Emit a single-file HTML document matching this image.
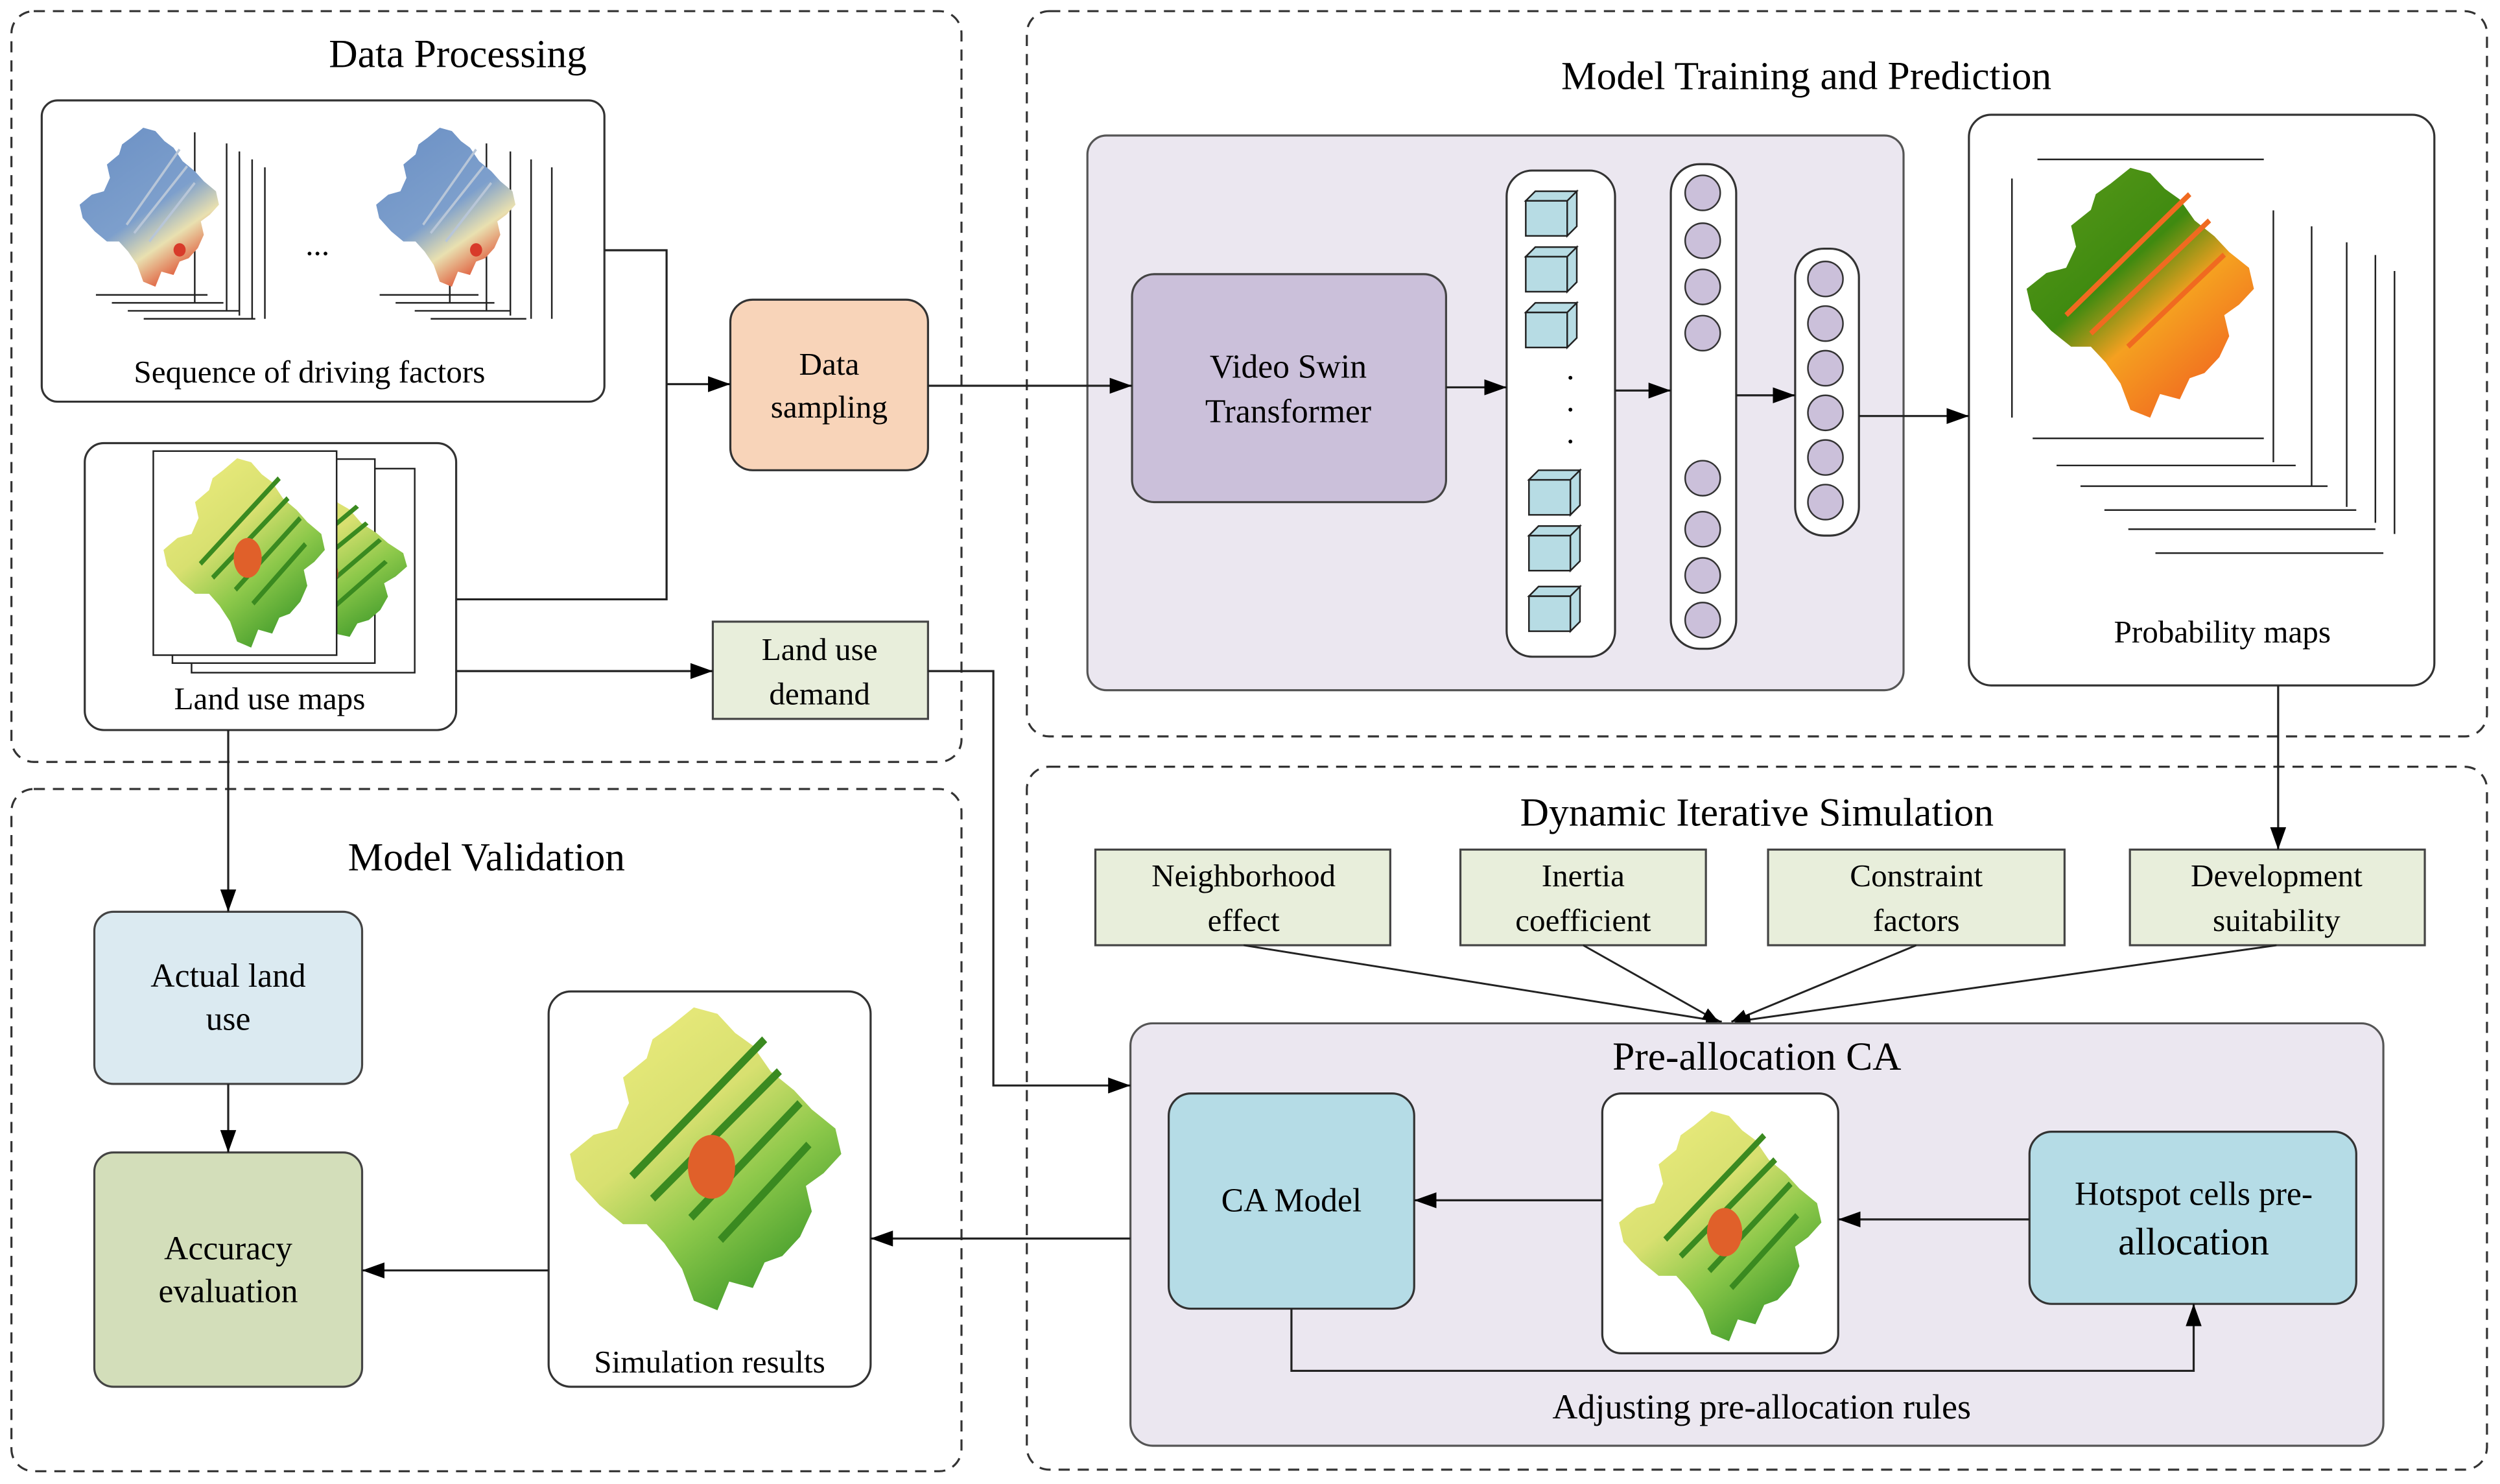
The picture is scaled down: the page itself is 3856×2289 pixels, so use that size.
<!DOCTYPE html>
<html><head><meta charset="utf-8"><style>html,body{margin:0;padding:0;background:#fff}svg{display:block}</style></head>
<body>
<svg xmlns="http://www.w3.org/2000/svg" width="3856" height="2289" viewBox="0 0 1568 931" font-family="'Liberation Serif', serif" fill="none">
<defs>
<marker id="ar" markerWidth="10" markerHeight="8" refX="10" refY="4" orient="auto" markerUnits="userSpaceOnUse" viewBox="0 0 10 8"><path d="M0,0 L10,4 L0,8 Z" fill="#000"/></marker>
<marker id="ar2" markerWidth="14" markerHeight="10" refX="14" refY="5" orient="auto" markerUnits="userSpaceOnUse" viewBox="0 0 14 10"><path d="M0,0 L14,5 L0,10 Z" fill="#000"/></marker>
<path id="shape" d="M38,8 L46,2 L54,4 L60,10 L66,14 L72,22 L80,28 L86,34 L94,40 L96,48 L90,54 L84,58 L86,66 L82,74 L76,80 L70,82 L66,90 L58,88 L54,97 L46,94 L42,84 L36,76 L30,70 L22,70 L14,64 L6,56 L4,48 L12,42 L20,40 L24,32 L22,24 L30,18 L32,12 Z"/>
<linearGradient id="gb" x1="0" y1="0" x2="0.6" y2="1"><stop offset="0" stop-color="#6a8fc4"/><stop offset="0.6" stop-color="#7d9fcc"/><stop offset="0.8" stop-color="#e9e0b0"/><stop offset="1" stop-color="#e05a3a"/></linearGradient>
<linearGradient id="gl" x1="0" y1="0" x2="0.7" y2="1"><stop offset="0" stop-color="#f0ee80"/><stop offset="0.45" stop-color="#d8e070"/><stop offset="0.7" stop-color="#8cc84a"/><stop offset="1" stop-color="#3f9a2a"/></linearGradient>
<linearGradient id="gp" x1="0" y1="0" x2="0.8" y2="1"><stop offset="0" stop-color="#5a9a1a"/><stop offset="0.45" stop-color="#3f8a10"/><stop offset="0.65" stop-color="#f5a020"/><stop offset="1" stop-color="#f06020"/></linearGradient>
<g id="mb"><use href="#shape" fill="url(#gb)"/><path d="M35,60 L70,15 M40,65 L75,25 M50,70 L80,35" stroke="#b8c6d8" stroke-width="1.5"/><circle cx="70" cy="75" r="4" fill="#d83a2a"/></g>
<g id="ml"><use href="#shape" fill="url(#gl)"/><path d="M25,55 L70,12 M32,62 L75,22 M45,68 L82,32 M55,75 L85,45" stroke="#3a8a20" stroke-width="2.5"/><ellipse cx="52" cy="52" rx="8" ry="10" fill="#e0602a"/></g>
<g id="mp"><use href="#shape" fill="url(#gp)"/><path d="M20,58 L70,12 M30,65 L78,22 M45,70 L84,35" stroke="#f06a20" stroke-width="2"/></g>
</defs>
<rect width="1568" height="931" fill="#fff"/>

<g stroke="#333" stroke-width="1.3" stroke-dasharray="7,5">
<rect x="7" y="7" width="596" height="471" rx="14"/>
<rect x="7" y="495" width="596" height="428" rx="14"/>
<rect x="644" y="7" width="916" height="455" rx="14"/>
<rect x="644" y="481" width="916" height="441" rx="14"/>
</g>
<g font-size="25" fill="#000" text-anchor="middle">
<text x="287" y="42">Data Processing</text>
<text x="1133" y="56">Model Training and Prediction</text>
<text x="1102" y="518">Dynamic Iterative Simulation</text>
<text x="305" y="546">Model Validation</text>
</g>

<rect x="26" y="63" width="353" height="189" rx="10" fill="#fff" stroke="#333" stroke-width="1.3"/>
<g stroke="#222" stroke-width="1">
<path d="M122,83 L122,190 M142,90 L142,195 M150,95 L150,198 M158,100 L158,200 M166,105 L166,200"/>
<path d="M60,185 L130,185 M70,190 L140,190 M80,195 L150,195 M90,200 L160,200"/>
<path d="M282,83 L282,190 M305,90 L305,195 M320,95 L320,198 M333,100 L333,200 M346,105 L346,200"/>
<path d="M238,185 L300,185 M248,190 L310,190 M260,195 L320,195 M270,200 L330,200"/>
</g>
<use href="#mb" transform="translate(46,78) scale(0.95,1.05)"/>
<use href="#mb" transform="translate(232,78) scale(0.95,1.05)"/>
<text x="199" y="160" font-size="20" fill="#000" text-anchor="middle">...</text>
<text x="194" y="240" font-size="20" fill="#000" text-anchor="middle">Sequence of driving factors</text>

<rect x="53" y="278" width="233" height="180" rx="12" fill="#fff" stroke="#333" stroke-width="1.3"/>
<rect x="120" y="294" width="140" height="128" fill="#fff" stroke="#222"/>
<rect x="108" y="288" width="127" height="128" fill="#fff" stroke="#222"/>
<use href="#ml" transform="translate(140,305) scale(1.2,1.05)"/>
<rect x="96" y="283" width="115" height="128" fill="#fff" stroke="#222"/>
<use href="#ml" transform="translate(98,285) scale(1.1,1.25)"/>
<text x="169" y="445" font-size="20" fill="#000" text-anchor="middle">Land use maps</text>

<rect x="458" y="188" width="124" height="107" rx="14" fill="#f8d4b9" stroke="#333" stroke-width="1.3"/>
<text x="520" y="235" font-size="20" fill="#000" text-anchor="middle">Data</text>
<text x="520" y="262" font-size="20" fill="#000" text-anchor="middle">sampling</text>
<rect x="447" y="390" width="135" height="61" fill="#e8eedb" stroke="#444" stroke-width="1.3"/>
<text x="514" y="414" font-size="20" fill="#000" text-anchor="middle">Land use</text>
<text x="514" y="442" font-size="20" fill="#000" text-anchor="middle">demand</text>

<rect x="682" y="85" width="512" height="348" rx="12" fill="#ebe7f0" stroke="#555" stroke-width="1.3"/>
<rect x="710" y="172" width="197" height="143" rx="14" fill="#cbc0da" stroke="#444" stroke-width="1.3"/>
<text x="808" y="237" font-size="21" fill="#000" text-anchor="middle">Video Swin</text>
<text x="808" y="265" font-size="21" fill="#000" text-anchor="middle">Transformer</text>
<rect x="945" y="107" width="68" height="305" rx="16" fill="#fff" stroke="#333" stroke-width="1.3"/>
<g fill="#b7dce4" stroke="#222" stroke-width="1">
<g id="cube"><rect x="957" y="126" width="26" height="22"/><path d="M957,126 L963,120 L989,120 L983,126 Z M983,126 L989,120 L989,142 L983,148 Z"/></g>
<use href="#cube" transform="translate(0,35)"/>
<use href="#cube" transform="translate(0,70)"/>
<use href="#cube" transform="translate(2,175)"/>
<use href="#cube" transform="translate(2,210)"/>
<use href="#cube" transform="translate(2,248)"/>
</g>
<g fill="#000"><circle cx="985" cy="237" r="1.2"/><circle cx="985" cy="257" r="1.2"/><circle cx="985" cy="277" r="1.2"/>
<circle cx="1068" cy="233" r="1.2"/><circle cx="1068" cy="253" r="1.2"/><circle cx="1068" cy="273" r="1.2"/></g>
<rect x="1048" y="103" width="41" height="304" rx="18" fill="#fff" stroke="#333" stroke-width="1.3"/>
<g fill="#cbc0da" stroke="#333" stroke-width="1">
<circle cx="1068" cy="121" r="11"/><circle cx="1068" cy="151" r="11"/><circle cx="1068" cy="180" r="11"/><circle cx="1068" cy="209" r="11"/>
<circle cx="1068" cy="300" r="11"/><circle cx="1068" cy="332" r="11"/><circle cx="1068" cy="361" r="11"/><circle cx="1068" cy="389" r="11"/>
</g>
<rect x="1126" y="156" width="40" height="180" rx="18" fill="#fff" stroke="#333" stroke-width="1.3"/>
<g fill="#cbc0da" stroke="#333" stroke-width="1">
<circle cx="1145" cy="175" r="11"/><circle cx="1145" cy="203" r="11"/><circle cx="1145" cy="231" r="11"/><circle cx="1145" cy="259" r="11"/><circle cx="1145" cy="287" r="11"/><circle cx="1145" cy="315" r="11"/>
</g>

<rect x="1235" y="72" width="292" height="358" rx="14" fill="#fff" stroke="#333" stroke-width="1.3"/>
<g stroke="#222" stroke-width="1">
<path d="M1262,112 L1262,262 M1426,132 L1426,290 M1450,142 L1450,305 M1472,152 L1472,318 M1490,160 L1490,328 M1502,170 L1502,335"/>
<path d="M1278,100 L1420,100 M1275,275 L1420,275 M1290,292 L1440,292 M1305,305 L1460,305 M1320,320 L1478,320 M1335,332 L1490,332 M1352,347 L1495,347"/>
</g>
<use href="#mp" transform="translate(1265,102) scale(1.55,1.65)"/>
<text x="1394" y="403" font-size="20" fill="#000" text-anchor="middle">Probability maps</text>

<g fill="#e8eedb" stroke="#444" stroke-width="1.3">
<rect x="687" y="533" width="185" height="60"/>
<rect x="916" y="533" width="154" height="60"/>
<rect x="1109" y="533" width="186" height="60"/>
<rect x="1336" y="533" width="185" height="60"/>
</g>
<g font-size="20" fill="#000" text-anchor="middle">
<text x="780" y="556">Neighborhood</text><text x="780" y="584">effect</text>
<text x="993" y="556">Inertia</text><text x="993" y="584">coefficient</text>
<text x="1202" y="556">Constraint</text><text x="1202" y="584">factors</text>
<text x="1428" y="556">Development</text><text x="1428" y="584">suitability</text>
</g>
<g stroke="#222" stroke-width="1.2" marker-end="url(#ar)">
<line x1="780" y1="593" x2="1080" y2="641"/>
<line x1="993" y1="593" x2="1078" y2="641"/>
<line x1="1202" y1="593" x2="1086" y2="641"/>
<line x1="1428" y1="593" x2="1088" y2="641"/>
</g>
<rect x="709" y="642" width="786" height="265" rx="14" fill="#ebe7f0" stroke="#555" stroke-width="1.3"/>
<text x="1102" y="671" font-size="25" fill="#000" text-anchor="middle">Pre-allocation CA</text>
<rect x="733" y="686" width="154" height="135" rx="14" fill="#b5dce6" stroke="#333" stroke-width="1.3"/>
<text x="810" y="760" font-size="21" fill="#000" text-anchor="middle">CA Model</text>
<rect x="1005" y="686" width="148" height="163" rx="12" fill="#fff" stroke="#333" stroke-width="1.3"/>
<use href="#ml" transform="translate(1010,694) scale(1.38,1.52)"/>
<rect x="1273" y="710" width="205" height="108" rx="14" fill="#b5dce6" stroke="#333" stroke-width="1.3"/>
<text x="1376" y="756" font-size="21" fill="#000" text-anchor="middle">Hotspot cells pre-</text>
<text x="1376" y="787" font-size="24" fill="#000" text-anchor="middle">allocation</text>
<text x="1105" y="890" font-size="22" fill="#000" text-anchor="middle">Adjusting pre-allocation rules</text>

<rect x="59" y="572" width="168" height="108" rx="12" fill="#dbeaf1" stroke="#444" stroke-width="1.3"/>
<text x="143" y="619" font-size="21" fill="#000" text-anchor="middle">Actual land</text>
<text x="143" y="646" font-size="21" fill="#000" text-anchor="middle">use</text>
<rect x="59" y="723" width="168" height="147" rx="12" fill="#d3deba" stroke="#444" stroke-width="1.3"/>
<text x="143" y="790" font-size="21" fill="#000" text-anchor="middle">Accuracy</text>
<text x="143" y="817" font-size="21" fill="#000" text-anchor="middle">evaluation</text>
<rect x="344" y="622" width="202" height="248" rx="14" fill="#fff" stroke="#333" stroke-width="1.3"/>
<use href="#ml" transform="translate(350,628) scale(1.85,2.0)"/>
<text x="445" y="861" font-size="20" fill="#000" text-anchor="middle">Simulation results</text>

<g stroke="#222" stroke-width="1.3">
<polyline points="379,157 418,157 418,376 286,376"/>
<line x1="418" y1="241" x2="458" y2="241" marker-end="url(#ar2)"/>
<line x1="582" y1="242" x2="710" y2="242" marker-end="url(#ar2)"/>
<line x1="907" y1="243" x2="945" y2="243" marker-end="url(#ar2)"/>
<line x1="1013" y1="245" x2="1048" y2="245" marker-end="url(#ar2)"/>
<line x1="1089" y1="248" x2="1126" y2="248" marker-end="url(#ar2)"/>
<line x1="1166" y1="261" x2="1235" y2="261" marker-end="url(#ar2)"/>
<line x1="1429" y1="430" x2="1429" y2="533" marker-end="url(#ar2)"/>
<line x1="286" y1="421" x2="447" y2="421" marker-end="url(#ar2)"/>
<polyline points="582,421 623,421 623,681 709,681" marker-end="url(#ar2)"/>
<line x1="143" y1="458" x2="143" y2="572" marker-end="url(#ar2)"/>
<line x1="143" y1="680" x2="143" y2="723" marker-end="url(#ar2)"/>
<line x1="344" y1="797" x2="227" y2="797" marker-end="url(#ar2)"/>
<line x1="709" y1="777" x2="546" y2="777" marker-end="url(#ar2)"/>
<line x1="1005" y1="753" x2="887" y2="753" marker-end="url(#ar2)"/>
<line x1="1273" y1="765" x2="1153" y2="765" marker-end="url(#ar2)"/>
<polyline points="810,821 810,860 1376,860 1376,818" marker-end="url(#ar2)"/>
</g>
</svg>
</body></html>
